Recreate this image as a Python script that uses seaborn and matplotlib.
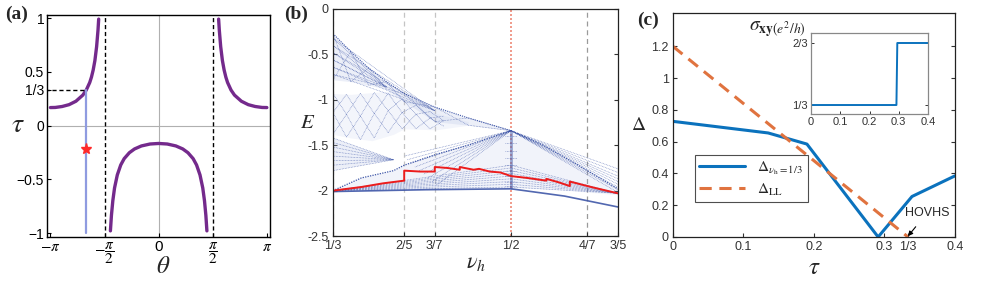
import numpy as np
import pandas as pd
import seaborn as sns
import matplotlib.pyplot as plt
from matplotlib.collections import LineCollection

sns.set_theme(style="ticks")
plt.rcParams['font.family'] = ['Liberation Sans', 'DejaVu Sans']
plt.rcParams['mathtext.fontset'] = 'stix'
plt.rcParams['xtick.direction'] = 'in'
plt.rcParams['ytick.direction'] = 'in'

# ---------------- data: panel (a), tau(theta)
left_theta = [-3.14, -3.0, -2.8, -2.6, -2.4, -2.2, -2.1, -2.0, -1.95, -1.9, -1.85, -1.8, -1.76, -1.74]
left_tau = [0.167, 0.168, 0.177, 0.194, 0.226, 0.283, 0.33, 0.40, 0.45, 0.516, 0.604, 0.734, 0.887, 0.99]
mid_theta = [-1.40, -1.37, -1.33, -1.28, -1.2, -1.1, -1.0, -0.85, -0.7, -0.5, -0.25, 0.0,
             0.25, 0.5, 0.7, 0.85, 1.0, 1.1, 1.2, 1.28, 1.33, 1.37, 1.40]
mid_tau = [-0.98, -0.836, -0.70, -0.581, -0.46, -0.367, -0.308, -0.253, -0.218, -0.19, -0.172, -0.167,
           -0.172, -0.19, -0.218, -0.253, -0.308, -0.367, -0.46, -0.581, -0.70, -0.836, -0.98]
right_theta = [1.74, 1.76, 1.8, 1.85, 1.9, 1.95, 2.0, 2.1, 2.2, 2.4, 2.6, 2.8, 3.0, 3.14]
right_tau = [0.99, 0.887, 0.734, 0.604, 0.516, 0.45, 0.40, 0.33, 0.283, 0.226, 0.194, 0.177, 0.168, 0.167]
theta_mark = -2.094
tau_mark = 1 / 3
star_tau = -0.22

# ---------------- data: panel (b), spectrum outline
nu_ticks = [1/3, 2/5, 3/7, 1/2, 4/7, 3/5]
nu_labels = ['1/3', '2/5', '3/7', '1/2', '4/7', '3/5']
# red step line (lowest gap edge)
red_nu = [0.3333, 0.3333, 0.36, 0.38, 0.4, 0.4, 0.415, 0.4286, 0.4286, 0.44, 0.452, 0.452, 0.465, 0.47,
          0.48, 0.49, 0.5, 0.515, 0.533, 0.533, 0.545, 0.555, 0.555, 0.575, 0.6]
red_E = [-1.79, -2.00, -1.96, -1.92, -1.89, -1.78, -1.79, -1.79, -1.74, -1.75, -1.77, -1.74, -1.77, -1.76,
         -1.79, -1.80, -1.84, -1.86, -1.89, -1.87, -1.91, -1.95, -1.90, -1.96, -2.03]
# top band
top_nu = [0.3333, 0.35, 0.3667, 0.3833, 0.4, 0.4286, 0.46, 0.5]
top_upper = [-0.27, -0.47, -0.65, -0.80, -0.93, -1.08, -1.20, -1.34]
top_lower = [-0.78, -0.80, -0.84, -0.88, -1.02, -1.24, -1.28, -1.34]
top_left_E = [-0.32, -0.40, -0.48, -0.56, -0.64, -0.72]
# middle band with diamonds (upper / centre / lower edge at each start)
mid_nu = [0.3333, 0.35, 0.37, 0.39, 0.40, 0.43, 0.46]
mid_upper = [-0.93, -0.94, -0.92, -0.90, -0.98, -1.15, -1.24]
mid_lower = [-1.38, -1.42, -1.45, -1.38, -1.32, -1.33, -1.28]
diamond_nu = [0.3333, 0.346, 0.359, 0.372, 0.385, 0.398, 0.411, 0.424, 0.437]
diamond_top = [-0.93, -0.94, -0.93, -0.92, -0.93, -0.99, -1.06, -1.13, -1.18]
diamond_mid = [-1.14, -1.16, -1.18, -1.15, -1.12, -1.14, -1.16, -1.20, -1.23]
diamond_bot = [-1.38, -1.41, -1.44, -1.42, -1.36, -1.32, -1.32, -1.32, -1.29]
# lower-left triangle
tri_E = [-1.42, -1.47, -1.52, -1.57, -1.62, -1.67, -1.72, -1.78]
tri_tip = (0.39, -1.66)
# lower butterfly
low_upper_nu = [0.3333, 0.36, 0.39, 0.40, 0.43, 0.46, 0.5, 0.53, 0.56, 0.6]
low_upper_E = [-2.00, -1.86, -1.78, -1.72, -1.60, -1.50, -1.34, -1.50, -1.70, -1.98]
low_lower_nu = [0.6, 0.55, 0.5, 0.42, 0.3333]
low_lower_E = [-2.05, -2.00, -1.97, -1.99, -2.01]
apex = (0.5, -1.34)
fan_right_E = [-1.76, -1.80, -1.84, -1.87, -1.90, -1.93, -1.96, -1.99, -2.02]
fan_left_nu = [0.40, 0.403, 0.406, 0.41, 0.414, 0.418, 0.422, 0.426, 0.43]
fan_left_E = [-1.62, -1.66, -1.70, -1.74, -1.78, -1.82, -1.86, -1.90, -1.94]
left_vertex = (0.3333, -2.0)
fan_low_E = [-1.72, -1.75, -1.78, -1.81, -1.84, -1.87, -1.90, -1.93, -1.96]
bottom_nu = [0.3333, 0.42, 0.5, 0.55, 0.6]
bottom_E = [-2.01, -1.99, -1.98, -2.06, -2.18]
center_E = [-1.40, -1.48, -1.56, -1.64, -1.72, -1.78, -1.84, -1.90, -1.95]

# ---------------- data: panel (c)
tau_c = [0.0, 0.135, 0.19, 0.291, 0.339, 0.4]
gap_nu13 = [0.728, 0.655, 0.585, 0.0, 0.255, 0.385]
tau_ll = [0.0, 1/3]
gap_ll = [1.20, 0.0]
inset_tau = [0.0, 0.292, 0.295, 0.4]
inset_sigma = [1/3, 1/3, 2/3, 2/3]

fig = plt.figure(figsize=(9.81, 2.81), dpi=100)
fig.patch.set_facecolor('white')

# ======================= panel (a)
ax1 = fig.add_axes([0.0479, 0.1566, 0.2273, 0.790])
purple = '#742a8c'
ax1.axhline(0, color='#b0b0b0', lw=0.8, zorder=0)
ax1.axvline(0, color='#b0b0b0', lw=0.8, zorder=0)
for th, ta in [(left_theta, left_tau), (mid_theta, mid_tau), (right_theta, right_tau)]:
    sns.lineplot(x=th, y=ta, ax=ax1, color=purple, lw=2.4, sort=False, estimator=None)
ax1.axvline(-np.pi / 2, color='black', ls=(0, (3, 2)), lw=1)
ax1.axvline(np.pi / 2, color='black', ls=(0, (3, 2)), lw=1)
ax1.plot([-3.3, theta_mark], [tau_mark, tau_mark], color='black', ls=(0, (3, 2)), lw=1)
ax1.plot([theta_mark, theta_mark], [-1, tau_mark], color='#8f9be0', lw=1.6)
ax1.plot([theta_mark], [star_tau], marker='*', color='#ff2a2a', ms=8, mec='#ff2a2a')
ax1.set_xlim(-3.24, 3.23)
ax1.set_ylim(-1.037, 1.028)
ax1.set_xticks([-np.pi, -np.pi / 2, 0, np.pi / 2, np.pi])
ax1.set_xticklabels([r'$-\pi$', r'$-\dfrac{\pi}{2}$', '0', r'$\dfrac{\pi}{2}$', r'$\pi$'], fontsize=11)
ax1.set_yticks([-1, -0.5, 0, 1/3, 0.5, 1])
ax1.set_yticklabels(['\u22121', '\u22120.5', '0', '1/3', '0.5', '1'], fontsize=10)
ax1.tick_params(length=3, width=0.8, pad=2, colors='black')
for s in ax1.spines.values():
    s.set_color('black'); s.set_linewidth(1.0)
fig.text(163 / 981, 1 - 266 / 281, r'$\theta$', fontsize=18, ha='center', va='center')
fig.text(18 / 981, 1 - 125 / 281, r'$\tau$', fontsize=20, ha='center', va='center')

# ======================= panel (b)
ax2 = fig.add_axes([0.3394, 0.160, 0.2905, 0.808])
dot_blue = '#3f57a8'
fill_blue = '#b5c0e6'
for x in [1/3, 2/5, 3/7]:
    ax2.axvline(x, color='#c4c4c4', ls=(0, (4, 3)), lw=0.9, zorder=0)
ax2.axvline(4/7, color='#9a9a9a', ls=(0, (4, 3)), lw=0.9, zorder=0)
ax2.axvline(1/2, color='#ee8a78', ls=(0, (1.2, 1.2)), lw=1.2, zorder=0)

# band fills
ax2.fill_between(top_nu, top_lower, top_upper, color=fill_blue, alpha=0.25, lw=0)
ax2.fill_between(mid_nu, mid_lower, mid_upper, color=fill_blue, alpha=0.15, lw=0)
ax2.fill(low_upper_nu + low_lower_nu, low_upper_E + low_lower_E, color=fill_blue, alpha=0.18, lw=0)
ax2.fill([0.3333, 0.3333, tri_tip[0]], [tri_E[0], tri_E[-1], tri_tip[1]], color=fill_blue, alpha=0.25, lw=0)

segs = []
# top band: crossing lines and lines from the left edge into the converging wing
for k in range(len(top_nu) - 1):
    segs.append([(top_nu[k], top_upper[k]), (top_nu[k + 1], top_lower[k + 1])])
    segs.append([(top_nu[k], top_lower[k]), (top_nu[k + 1], top_upper[k + 1])])
for e in top_left_E:
    segs.append([(0.3333, e), (0.4286, -1.12)])
    segs.append([(0.3333, e), (0.3833, -0.86)])
# middle band diamonds
for k in range(len(diamond_nu) - 1):
    x0, x1 = diamond_nu[k], diamond_nu[k + 1]
    segs.append([(x0, diamond_top[k]), (x1, diamond_mid[k + 1])])
    segs.append([(x0, diamond_mid[k]), (x1, diamond_top[k + 1])])
    segs.append([(x0, diamond_mid[k]), (x1, diamond_bot[k + 1])])
    segs.append([(x0, diamond_bot[k]), (x1, diamond_mid[k + 1])])
# lower-left triangle
for e in tri_E:
    segs.append([(0.3333, e), tri_tip])
# lower butterfly fans
for e in fan_right_E:
    segs.append([apex, (0.6, e)])
for x, e in zip(fan_left_nu, fan_left_E):
    segs.append([apex, (x, e)])
for e in fan_low_E:
    segs.append([left_vertex, (0.5, e)])
    segs.append([(0.5, e), (0.6, -2.03)])
for e in center_E:
    segs.append([(0.494, e), (0.506, e)])
ax2.add_collection(LineCollection(segs, colors=dot_blue, linewidths=0.5, linestyles=(0, (1, 1.2)), alpha=0.75))
ax2.plot(top_nu, top_upper, color=dot_blue, lw=0.8, ls=(0, (1, 1)))
ax2.plot(low_upper_nu, low_upper_E, color=dot_blue, lw=0.9, ls=(0, (1, 1)))
ax2.plot(bottom_nu, bottom_E, color=dot_blue, lw=1.2, alpha=0.9)
ax2.plot([0.5, 0.5], [-1.34, -1.97], color=dot_blue, lw=2.0, alpha=0.5)

sns.lineplot(x=red_nu, y=red_E, ax=ax2, color='#ec1c1c', lw=1.4, sort=False, estimator=None)
ax2.set_xlim(1/3, 3/5)
ax2.set_ylim(-2.5, 0)
ax2.set_xticks(nu_ticks)
ax2.set_xticklabels(nu_labels, fontsize=9)
ax2.set_yticks([0, -0.5, -1, -1.5, -2, -2.5])
ax2.set_yticklabels(['0', '-0.5', '-1', '-1.5', '-2', '-2.5'], fontsize=9)
ax2.tick_params(length=3, width=0.8, pad=3, colors='#333333', right=True)
for s in ax2.spines.values():
    s.set_color('#222222'); s.set_linewidth(0.9)
ax2.set_xlabel(r'$\nu_h$', fontsize=16, labelpad=0)
ax2.set_ylabel(r'$E$', fontsize=15, rotation=0, labelpad=0, va='center')

# ======================= panel (c)
ax3 = fig.add_axes([0.686, 0.1566, 0.2875, 0.797])
blue = '#0b72bd'
orange = '#e0733f'
sns.lineplot(x=tau_c, y=gap_nu13, ax=ax3, color=blue, lw=2.2, sort=False, estimator=None,
             label=r'$\Delta_{\nu_{\rm h}=1/3}$')
sns.lineplot(x=tau_ll, y=gap_ll, ax=ax3, color=orange, lw=2.2, sort=False, estimator=None,
             label=r'$\Delta_{\rm LL}$')
ax3.set_xlim(0, 0.4)
ax3.set_ylim(0, 1.41)
ax3.set_xticks([0, 0.1, 0.2, 0.3, 1/3, 0.4])
ax3.set_xticklabels(['0', '0.1', '0.2', '0.3', '1/3', '0.4'], fontsize=9)
ax3.set_yticks([0, 0.2, 0.4, 0.6, 0.8, 1.0, 1.2])
ax3.set_yticklabels(['0', '0.2', '0.4', '0.6', '0.8', '1', '1.2'], fontsize=9)
ax3.tick_params(length=3, width=0.8, pad=3, colors='#333333', right=True)
for s in ax3.spines.values():
    s.set_color('#222222'); s.set_linewidth(0.9)
ax3.set_xlabel(r'$\tau$', fontsize=18, labelpad=1)
ax3.set_ylabel(r'$\Delta$', fontsize=14, rotation=0, labelpad=9, va='center')
leg = ax3.legend(loc='lower left', bbox_to_anchor=(0.05, 0.12), fontsize=11, frameon=True,
                 fancybox=False, edgecolor='#222222', handlelength=3.0, borderpad=0.3, labelspacing=0.3)
leg.get_frame().set_linewidth(0.8)
ax3.lines[1].set_linestyle((0, (4, 2.5)))
leg.get_lines()[1].set_linestyle((0, (4, 2.5)))
ax3.annotate('HOVHS', xy=(1/3, 0.005), xytext=(0.36, 0.15), fontsize=9, ha='center', va='center',
             arrowprops=dict(arrowstyle='-|>', color='black', lw=0.8, shrinkA=4, shrinkB=0, mutation_scale=7))

# inset
ax4 = fig.add_axes([0.8267, 0.5943, 0.1193, 0.288])
sns.lineplot(x=inset_tau, y=inset_sigma, ax=ax4, color=blue, lw=1.4, sort=False, estimator=None)
ax4.set_xlim(0, 0.4)
ax4.set_ylim(0.285, 0.72)
ax4.set_xticks([0, 0.1, 0.2, 0.3, 0.4])
ax4.set_xticklabels(['0', '0.1', '0.2', '0.3', '0.4'], fontsize=8)
ax4.set_yticks([1/3, 2/3])
ax4.set_yticklabels(['1/3', '2/3'], fontsize=8)
ax4.tick_params(length=2.5, width=0.7, pad=2, colors='#333333', right=True)
for s in ax4.spines.values():
    s.set_color('#888888'); s.set_linewidth(0.9)
fig.text(806 / 981, 1 - 29 / 281, r'$\sigma_{\mathbf{xy}(e^2/h)}$', fontsize=14, ha='right', va='center')

# panel labels
for lab, x, y in [('(a)', 5, 14), ('(b)', 284, 14), ('(c)', 637, 20)]:
    fig.text(x / 981, 1 - y / 281, lab, fontsize=14, fontweight='bold', family='Liberation Serif',
             ha='left', va='center')

fig.savefig('out.png', dpi=100)
